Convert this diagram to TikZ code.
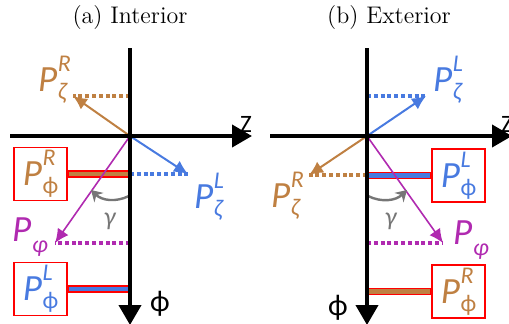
\documentclass[tikz,border=0pt]{standalone}
\usepackage{fontspec}
\usetikzlibrary{arrows.meta}
\newfontfamily\lblfont{Carlito}
\definecolor{brn}{RGB}{191,128,66}
\definecolor{blu}{RGB}{72,122,224}
\definecolor{mag}{RGB}{176,42,176}
\definecolor{gry}{RGB}{118,118,118}
\newcommand{\plab}[2]{\textit{P}\kern0.3pt\raisebox{-4pt}{\rlap{\raisebox{14pt}{\fontsize{12}{12}\selectfont\itshape #1}}\fontsize{12}{12}\selectfont #2}}
\newcommand{\pvphi}{\textit{P}\kern0.5pt\raisebox{-5.5pt}{\fontsize{12}{12}\selectfont\itshape φ}}

\begin{document}
\begin{tikzpicture}[x=0.5pt,y=-0.5pt,
    axis/.style={line width=2pt,-{Triangle[length=10pt,width=11pt]}},
    vec/.style={line width=1pt,-{Latex[length=7pt,width=6.5pt]}},
    proj/.style={line width=2pt,dash pattern=on 2pt off 1.4pt},
    bar/.style={draw=red,line width=0.8pt,inner sep=0pt,minimum height=3pt},
    pbox/.style={draw=red,line width=0.8pt,minimum size=26.5pt,inner sep=0pt,font=\lblfont\fontsize{18.5}{18.5}\selectfont},
    plabel/.style={font=\lblfont\fontsize{18.5}{18.5}\selectfont},
    axlabel/.style={font=\lblfont\fontsize{12.5}{12.5}\selectfont},
    gam/.style={gry,line width=1.2pt,-{Stealth[length=5.5pt,width=6.5pt]}},
    title/.style={font=\fontsize{12}{14}\selectfont}]
    \useasboundingbox (0,0) rectangle (509,323);

    % (a) interior
    \node[title] (ta) at (130,18) {(a) Interior};
    \coordinate (oa) at (130,136);
    \coordinate (za0) at (10,136);
    \coordinate (za1) at (252,136);
    \coordinate (fa0) at (130,48);
    \coordinate (fa1) at (130,325);
    \coordinate (ra) at (73,96);
    \coordinate (la) at (188,174);
    \coordinate (pa) at (55,243);
    \coordinate (ga1) at (129,196);
    \coordinate (ga2) at (91,190);
    \draw[proj,brn] (oa |- ra) -- (ra);
    \draw[proj,blu] (oa |- la) -- (la);
    \draw[proj,mag] (oa |- pa) -- (pa);
    \node[pbox,text=brn] (bRa) at (40.5,174) {\plab{R}{ϕ}};
    \node[pbox,text=blu] (bLa) at (40.5,289) {\plab{L}{ϕ}};
    \node[bar,fill=brn,minimum width=31pt,anchor=west] (sRa) at (bRa.east) {};
    \node[bar,fill=blu,minimum width=31pt,anchor=west] (sLa) at (bLa.east) {};
    \draw[vec,brn] (oa) -- (ra);
    \draw[vec,blu] (oa) -- (la);
    \draw[vec,mag,line width=0.8pt] (oa) -- (pa);
    \draw[gam] (ga1) to[bend left=35] (ga2);
    \draw[axis] (za0) -- (za1);
    \draw[axis] (fa0) -- (fa1);
    \node[plabel,brn] (lRa) at (53,80) {\plab{R}{\textit{ζ}}};
    \node[plabel,blu] (lLa) at (209,197) {\plab{L}{\textit{ζ}}};
    \node[plabel,mag] (lPa) at (30,237) {\pvphi};
    \node[plabel,gry,font=\lblfont\fontsize{13}{13}\selectfont] (gla) at (110,221) {\textit{γ}};
    \node[axlabel] (zla) at (246,124) {Z};
    \node[axlabel,font=\lblfont\fontsize{15}{15}\selectfont] (fla) at (160,304) {ϕ};

    % (b) exterior
    \node[title] (tb) at (389,18) {(b) Exterior};
    \coordinate (ob) at (367,136);
    \coordinate (zb0) at (270,136);
    \coordinate (zb1) at (512,136);
    \coordinate (fb0) at (367,48);
    \coordinate (fb1) at (367,325);
    \coordinate (lb) at (426,96);
    \coordinate (rb) at (309,175);
    \coordinate (pb) at (443,243);
    \coordinate (gb1) at (368,196);
    \coordinate (gb2) at (407,190);
    \draw[proj,blu] (ob |- lb) -- (lb);
    \draw[proj,brn] (ob |- rb) -- (rb);
    \draw[proj,mag] (ob |- pb) -- (pb);
    \node[pbox,text=blu] (bLb) at (458.5,175.5) {\plab{L}{ϕ}};
    \node[pbox,text=brn] (bRb) at (458.5,291.5) {\plab{R}{ϕ}};
    \node[bar,fill=blu,minimum width=32pt,anchor=east] (sLb) at (bLb.west) {};
    \node[bar,fill=brn,minimum width=32pt,anchor=east] (sRb) at (bRb.west) {};
    \draw[vec,blu] (ob) -- (lb);
    \draw[vec,brn] (ob) -- (rb);
    \draw[vec,mag,line width=0.8pt] (ob) -- (pb);
    \draw[gam] (gb1) to[bend right=35] (gb2);
    \draw[axis] (zb0) -- (zb1);
    \draw[axis] (fb0) -- (fb1);
    \node[plabel,blu] (lLb) at (448,80) {\plab{L}{\textit{ζ}}};
    \node[plabel,brn] (lRb) at (286,196) {\plab{R}{\textit{ζ}}};
    \node[plabel,mag] (lPb) at (471,240) {\pvphi};
    \node[plabel,gry,font=\lblfont\fontsize{13}{13}\selectfont] (glb) at (391,221) {\textit{γ}};
    \node[axlabel] (zlb) at (507,124) {Z};
    \node[axlabel,font=\lblfont\fontsize{15}{15}\selectfont] (flb) at (338,308) {ϕ};
\end{tikzpicture}
\end{document}
